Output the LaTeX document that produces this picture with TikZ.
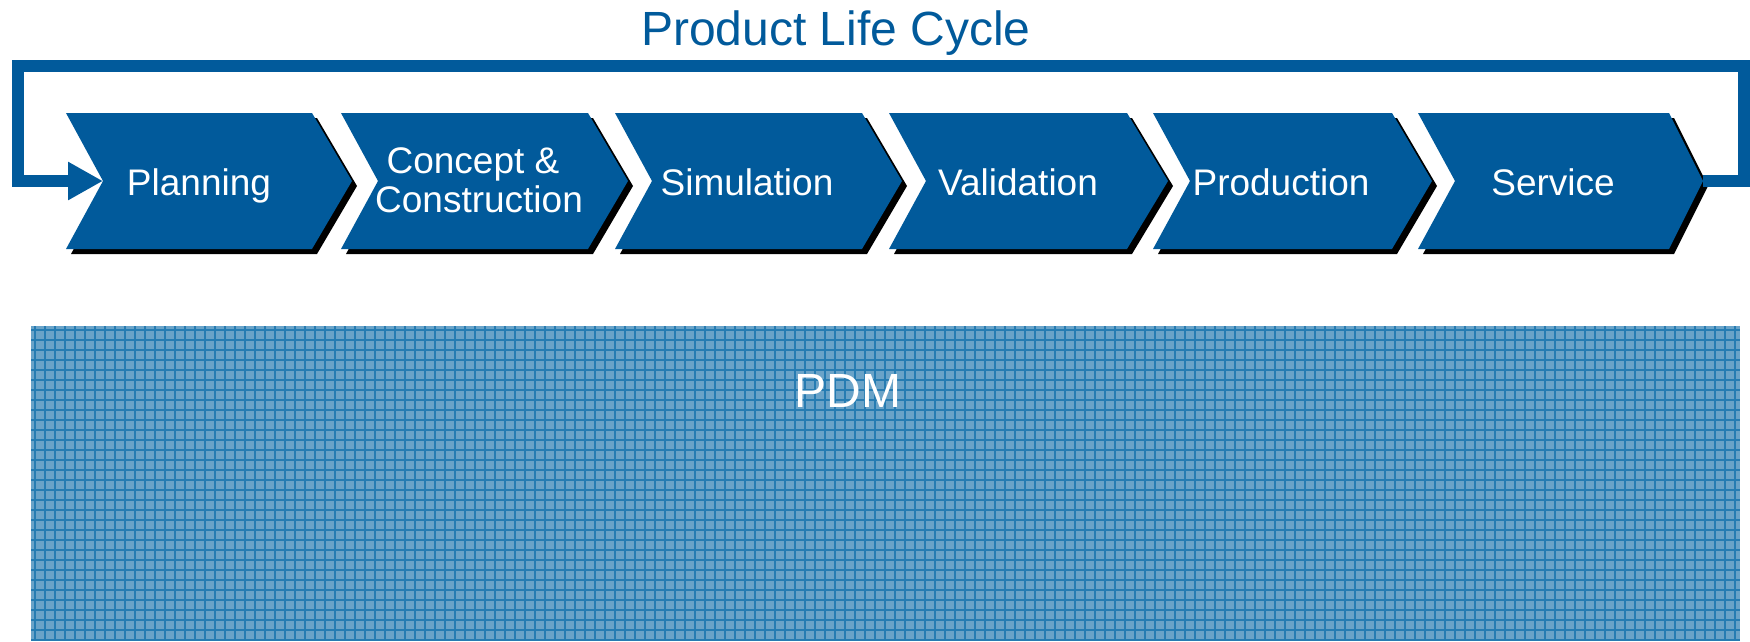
\documentclass[tikz,border=0pt]{standalone}
\usepackage{fontspec}
\setmainfont{Liberation Sans}
\usetikzlibrary{arrows.meta}
\definecolor{plmblue}{RGB}{1,90,155}
\definecolor{pdmfill}{RGB}{106,163,200}
\definecolor{pdmgrid}{RGB}{38,124,178}
\tikzset{
  chev/.style={fill=plmblue},
  chevshadow/.style={fill=black},
  lbl/.style={text=white,font=\fontsize{37}{37}\selectfont,anchor=base,inner sep=0pt},
  loopline/.style={draw=plmblue,line width=12pt,line join=miter,line cap=butt},
}
\newcommand{\chevron}[4]{% name, xleft, xright, tipdepth
  \fill[chevshadow] (#2+5,118) -- (#3+5,118) -- (#3+#4+5,186) -- (#3+5,254) -- (#2+5,254) -- (#2+42,186) -- cycle;
  \fill[chev] (#2,113) -- (#3,113) -- (#3+#4,181) -- (#3,249) -- (#2,249) -- (#2+37,181) -- cycle;
  \coordinate (#1-notch) at (#2+37,181);
  \coordinate (#1-tip) at (#3+#4,181);
}
\begin{document}
\begin{tikzpicture}[x=1pt,y=-1pt]
\useasboundingbox (0,0) rectangle (1750,641);
% PDM area
\fill[pdmfill] (31,326) rectangle (1740,641);
\begin{scope}
\clip (31,326) rectangle (1740,641);
\foreach \i in {0,...,172} {
  \draw[pdmgrid,line width=1.1pt] (31+10*\i+4,326) -- (31+10*\i+4,641);
}
\foreach \j in {0,...,32} {
  \draw[pdmgrid,line width=1.1pt] (31,326+10*\j+4) -- (1740,326+10*\j+4);
}
\end{scope}
\node[lbl,font=\fontsize{48}{48}\selectfont] (pdm) at (848,407) {PDM};
% title
\node[lbl,text=plmblue,font=\fontsize{48}{48}\selectfont] (title) at (836,45) {Product Life Cycle};
% chevrons
\chevron{plan}{66}{312}{40}
\chevron{conc}{341}{588}{40}
\chevron{sim}{615}{862}{40}
\chevron{val}{889}{1127}{41}
\chevron{prod}{1153}{1392}{40}
\chevron{serv}{1418}{1669}{34}
\node[lbl] (tplan) at (199,195) {Planning};
\node[lbl] (tconc1) at (473,173) {Concept \&};
\node[lbl] (tconc2) at (479,212) {Construction};
\node[lbl] (tsim) at (747,195) {Simulation};
\node[lbl] (tval) at (1018,195) {Validation};
\node[lbl] (tprod) at (1281,195) {Production};
\node[lbl] (tserv) at (1553,195) {Service};
% loop connector
\coordinate (rtop) at (1744,66);
\coordinate (ltop) at (17.5,66);
\draw[loopline,-{Triangle[length=35pt,width=36pt]}] (serv-tip) -- (serv-tip -| rtop) -- (rtop) -- (ltop) -- (ltop |- plan-notch) -- (plan-notch);
\end{tikzpicture}
\end{document}
